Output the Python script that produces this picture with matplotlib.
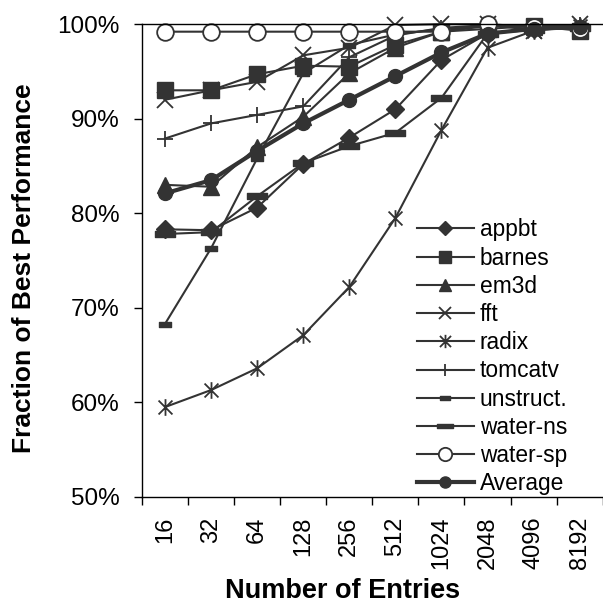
import numpy as np
import matplotlib.pyplot as plt
from matplotlib.path import Path

# ---------------------------------------------
# Cache size sweep: fraction of best performance
# ---------------------------------------------
entries = ["16", "32", "64", "128", "256", "512", "1024", "2048", "4096", "8192"]

appbt = [78.3, 78.2, 80.6, 85.2, 88.0, 91.0, 96.2, 99.0, 99.5, 99.6]
barnes = [93.0, 93.0, 94.7, 95.6, 95.5, 97.8, 99.2, 99.5, 99.8, 99.3]
em3d = [83.0, 82.8, 87.0, 90.2, 94.8, 97.5, 99.2, 99.8, 99.7, 99.6]
fft = [92.0, 93.0, 93.9, 96.7, 97.5, 99.9, 100.0, 100.0, 99.3, 100.0]
radix = [59.5, 61.3, 63.6, 67.1, 72.2, 79.5, 88.8, 97.5, 99.3, 99.8]
tomcatv = [87.9, 89.5, 90.4, 91.3, 96.5, 98.8, 99.6, 99.9, 99.8, 99.9]
unstruct = [68.3, 76.3, 85.8, 94.8, 97.8, 98.9, 99.5, 99.8, 99.8, 99.9]
water_ns = [77.8, 78.0, 81.8, 85.3, 87.1, 88.5, 92.2, 99.0, 99.4, 99.6]
water_sp = [99.2, 99.2, 99.2, 99.2, 99.2, 99.2, 99.2, 100.0, 99.7, 99.5]
average = [82.1, 83.5, 86.6, 89.5, 92.0, 94.5, 97.0, 99.0, 99.5, 99.7]

plt.rcParams["font.family"] = "Liberation Sans"

ink = "#333333"

# custom markers: Excel style asterisk and dashes
asterisk = Path(
    [(-1, -1), (1, 1), (-1, 1), (1, -1), (0, -1.2), (0, 1.2)],
    [Path.MOVETO, Path.LINETO, Path.MOVETO, Path.LINETO, Path.MOVETO, Path.LINETO],
)
short_dash = Path([(-1, -0.4), (1, -0.4), (1, 0.4), (-1, 0.4), (-1, -0.4)],
                  [Path.MOVETO, Path.LINETO, Path.LINETO, Path.LINETO, Path.CLOSEPOLY])
long_dash = Path([(-1, -0.28), (1, -0.28), (1, 0.28), (-1, 0.28), (-1, -0.28)],
                 [Path.MOVETO, Path.LINETO, Path.LINETO, Path.LINETO, Path.CLOSEPOLY])

series = [
    ("appbt", appbt, dict(marker="D", markersize=9)),
    ("barnes", barnes, dict(marker="s", markersize=11.5)),
    ("em3d", em3d, dict(marker="^", markersize=11)),
    ("fft", fft, dict(marker="x", markersize=11, markeredgewidth=1.3)),
    ("radix", radix, dict(marker=asterisk, markersize=12, markeredgewidth=1.3)),
    ("tomcatv", tomcatv, dict(marker="+", markersize=11, markeredgewidth=1.3)),
    ("unstruct.", unstruct, dict(marker=short_dash, markersize=9)),
    ("water-ns", water_ns, dict(marker=long_dash, markersize=14)),
    ("water-sp", water_sp, dict(marker="o", markersize=12, markerfacecolor="white",
                                markeredgewidth=1.3)),
    ("Average", average, dict(marker="o", markersize=10, linewidth=3)),
]

fig = plt.figure(figsize=(6.03, 6.03), dpi=100)
ax = fig.add_axes([0.2355, 0.176, 0.764, 0.784])

x = np.arange(len(entries))
for name, vals, style in series:
    kw = dict(color=ink, markerfacecolor=ink, markeredgecolor=ink, linewidth=1.5)
    kw.update(style)
    ax.plot(x, np.array(vals) / 100, label=name, clip_on=False, **kw)

ax.set_ylim(0.5, 1.0)
ax.set_xlim(-0.5, len(entries) - 0.5)
ax.set_yticks(np.arange(0.5, 1.01, 0.1))
ax.set_yticklabels([f"{int(round(v * 100))}%" for v in np.arange(0.5, 1.01, 0.1)],
                   fontsize=17.5)

# category ticks sit between the groups, labels sit on the groups
ax.set_xticks(np.arange(-0.5, len(entries), 1.0))
ax.set_xticklabels([])
ax.set_xticks(x, minor=True)
ax.set_xticklabels(entries, minor=True, rotation=90, fontsize=17)
ax.tick_params(axis="x", which="minor", length=0, pad=14)
ax.tick_params(axis="x", which="major", direction="out", length=6, width=1)
ax.tick_params(axis="y", direction="out", length=6, width=1, pad=10)

ax.spines["right"].set_visible(False)
for side in ["left", "bottom", "top"]:
    ax.spines[side].set_color("black")
    ax.spines[side].set_linewidth(1)

fig.text(0.04, 0.556, "Fraction of Best Performance", rotation=90,
         ha="center", va="center", fontsize=19, fontweight="bold")
fig.text(0.568, 0.02, "Number of Entries", ha="center", va="center",
         fontsize=19.5, fontweight="bold")

leg = ax.legend(loc="upper left", bbox_to_anchor=(0.6915, 0.638),
                bbox_transform=fig.transFigure, frameon=False,
                fontsize=16.4, handlelength=2.5, handletextpad=0.26,
                labelspacing=0.23, borderpad=0, borderaxespad=0,
                markerscale=0.8)

fig.savefig("out.png", dpi=100)
